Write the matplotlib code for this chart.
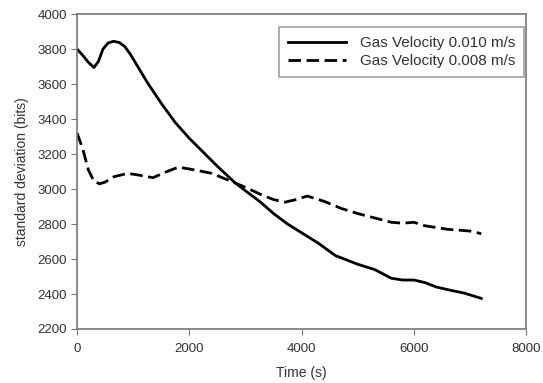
import matplotlib.pyplot as plt

plt.rcParams['font.family'] = ['Liberation Sans', 'DejaVu Sans']

# --- data ---
t_010 = [0, 100, 200, 300, 380, 460, 550, 650, 750, 850, 950, 1100, 1250, 1500,
         1750, 2000, 2250, 2500, 2800, 3000, 3250, 3500, 3750, 4000, 4300, 4600,
         5000, 5300, 5600, 5800, 6000, 6200, 6400, 6600, 6900, 7200]
sd_010 = [3800, 3765, 3725, 3695, 3730, 3800, 3835, 3845, 3838, 3815, 3770, 3690,
          3610, 3490, 3380, 3290, 3210, 3130, 3040, 2990, 2930, 2860, 2800, 2750,
          2690, 2620, 2570, 2540, 2490, 2480, 2480, 2465, 2440, 2425, 2405, 2375]

t_008 = [0, 100, 200, 300, 400, 500, 650, 900, 1100, 1350, 1600, 1800, 2000,
         2400, 2700, 3000, 3300, 3500, 3700, 3900, 4100, 4400, 4700, 5000, 5300,
         5600, 5800, 6000, 6200, 6600, 7000, 7200]
sd_008 = [3320, 3230, 3110, 3045, 3030, 3040, 3070, 3090, 3080, 3065, 3100, 3125,
          3115, 3090, 3050, 3010, 2965, 2940, 2925, 2940, 2960, 2930, 2890, 2860,
          2835, 2810, 2805, 2810, 2790, 2770, 2760, 2745]

labels = ['Gas Velocity 0.010 m/s', 'Gas Velocity 0.008 m/s']

fig = plt.figure(figsize=(5.43, 3.83), dpi=100, facecolor='#fdfdfb')
ax = fig.add_axes([0.142, 0.141, 0.827, 0.822])
ax.set_facecolor('#fdfdfb')

ax.plot(t_010, sd_010, color='black', linewidth=2, label=labels[0])
ax.plot(t_008, sd_008, color='black', linewidth=2, dashes=(4.5, 2), label=labels[1])

ax.set_xlim(0, 8000)
ax.set_ylim(2200, 4000)
ax.set_xticks(range(0, 8001, 2000))
ax.set_yticks(range(2200, 4001, 200))

for s in ax.spines.values():
    s.set_color('#777777')
    s.set_linewidth(1.2)
ax.tick_params(direction='out', length=4, color='#777777', labelsize=9.5,
               labelcolor='#333333')
ax.tick_params(axis='x', pad=6)

ax.set_xlabel('Time (s)', fontsize=10, color='#333333', labelpad=8)
ax.set_ylabel('standard deviation (bits)', fontsize=10, color='#333333', labelpad=6)

leg = ax.legend(loc='upper right', bbox_to_anchor=(0.996, 0.959), fontsize=11,
                frameon=True, fancybox=False, edgecolor='#888888',
                borderaxespad=0, handlelength=3.8, handletextpad=0.9,
                borderpad=0.6, labelspacing=0.25)
leg.get_frame().set_linewidth(1.2)
for txt in leg.get_texts():
    txt.set_color('#333333')

fig.savefig('out.png', dpi=100, facecolor=fig.get_facecolor())
